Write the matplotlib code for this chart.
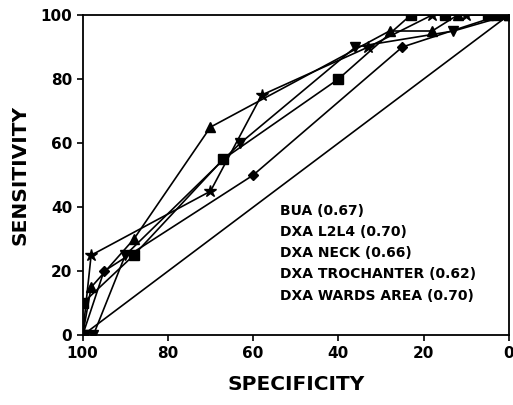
import numpy as np
import matplotlib
matplotlib.use("Agg")
import matplotlib.pyplot as plt

# ROC points (specificity, sensitivity)
spec_bua = [100, 100, 88, 67, 40, 23, 15, 5, 0]
sens_bua = [0, 10, 25, 55, 80, 100, 100, 100, 100]

spec_l2l4 = [100, 98, 88, 70, 28, 18, 12, 3, 0]
sens_l2l4 = [0, 15, 30, 65, 95, 95, 100, 100, 100]

spec_neck = [100, 95, 60, 25, 2, 0]
sens_neck = [0, 20, 50, 90, 100, 100]

spec_troch = [100, 98, 70, 58, 33, 18, 10, 1, 0]
sens_troch = [0, 25, 45, 75, 90, 100, 100, 100, 100]

spec_wards = [100, 97.5, 90, 63, 36, 13, 0]
sens_wards = [0, 0, 25, 60, 90, 95, 100]

chance = [100, 0]

legend_labels = ["BUA (0.67)", "DXA L2L4 (0.70)", "DXA NECK (0.66)",
                 "DXA TROCHANTER (0.62)", "DXA WARDS AREA (0.70)"]

fig = plt.figure(figsize=(5.13, 4.05), dpi=100)
ax = fig.add_axes([0.161, 0.172, 0.831, 0.791])

lw = 1.2
ax.plot(chance, [0, 100], color="black", lw=lw)
ax.plot(spec_bua, sens_bua, color="black", lw=lw, marker="s", ms=7)
ax.plot(spec_l2l4, sens_l2l4, color="black", lw=lw, marker="^", ms=7)
ax.plot(spec_neck, sens_neck, color="black", lw=lw, marker="D", ms=5)
ax.plot(spec_troch, sens_troch, color="black", lw=lw, marker="*", ms=9)
ax.plot(spec_wards, sens_wards, color="black", lw=lw, marker="v", ms=7)

ax.set_xlim(100, 0)
ax.set_ylim(0, 100)
ax.set_xticks([100, 80, 60, 40, 20, 0])
ax.set_yticks([0, 20, 40, 60, 80, 100])
ax.tick_params(direction="out", length=4, width=1.2, labelsize=11)
for lab in ax.get_xticklabels() + ax.get_yticklabels():
    lab.set_fontweight("bold")
for sp in ax.spines.values():
    sp.set_linewidth(1.3)

ax.set_xlabel("SPECIFICITY", fontsize=14.5, fontweight="bold", labelpad=10)
ax.set_ylabel("SENSITIVITY", fontsize=14.5, fontweight="bold", labelpad=8)

for i, txt in enumerate(legend_labels):
    ax.text(53.7, 38.8 - i * 6.6, txt, fontsize=10, fontweight="bold",
            va="center", ha="left")

plt.savefig("out.png", dpi=100)
